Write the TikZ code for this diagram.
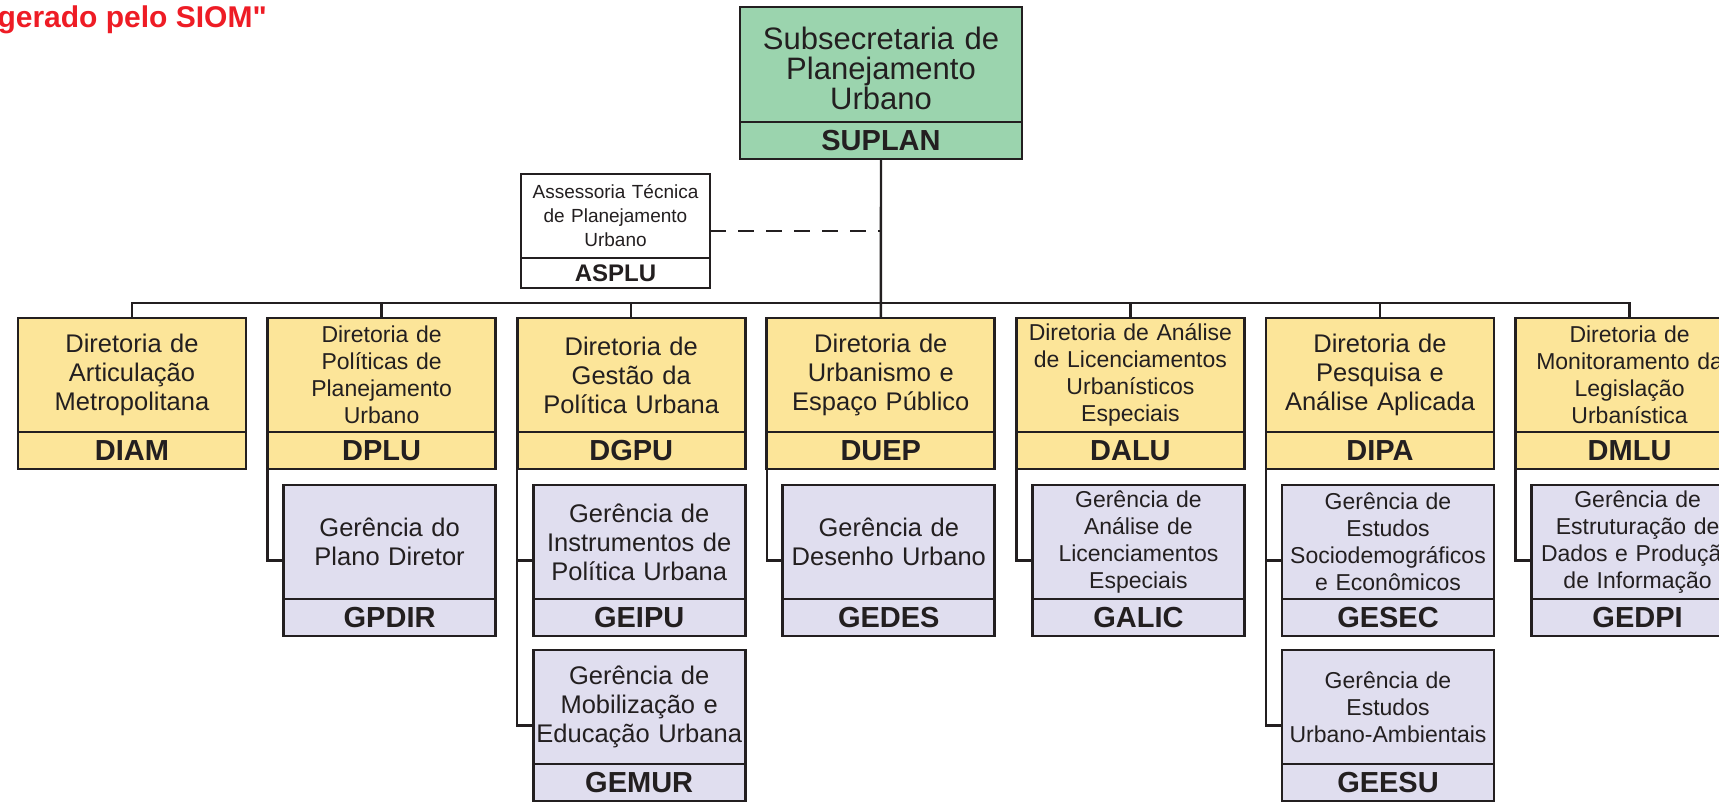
\documentclass[tikz,border=0pt]{standalone}
\usepackage{fontspec}
\setmainfont{Liberation Sans}
\newfontfamily\siomfont{Liberation Sans}
\usepackage{tikz}
\usetikzlibrary{positioning, calc}

\definecolor{ink}{HTML}{231F20}
\definecolor{suplangreen}{HTML}{9BD4AE}
\definecolor{diryellow}{HTML}{FCE599}
\definecolor{gerlilac}{HTML}{E0DEEF}
\definecolor{siomred}{HTML}{EE1C25}

\newcommand{\txtbig}{\fontsize{25.5}{29}\selectfont}
\newcommand{\txtsmall}{\fontsize{23}{27}\selectfont}
\newcommand{\txtsig}{\fontsize{29}{31}\selectfont\bfseries}

\tikzstyle{unit} = [rectangle, draw=ink, line width=2.8pt, text=ink, align=center, inner sep=0pt, outer sep=0pt]
\tikzstyle{secretaria} = [unit, fill=suplangreen, minimum width=282pt, text width=276pt, minimum height=115pt, font=\fontsize{31}{30}\selectfont]
\tikzstyle{assessoria} = [unit, fill=white, minimum width=189pt, text width=183pt, minimum height=84pt, font=\fontsize{19}{24}\selectfont]
\tikzstyle{diretoria} = [unit, fill=diryellow, minimum width=228pt, text width=222pt, minimum height=114pt, font=\txtbig]
\tikzstyle{gerencia} = [unit, fill=gerlilac, minimum width=212pt, text width=208pt, minimum height=114pt, font=\txtbig]
\tikzstyle{sigla} = [minimum height=37pt, font=\txtsig]
\tikzstyle{link} = [draw=ink, line width=2.4pt]
\tikzstyle{dashlink} = [link, dash pattern=on 16pt off 12pt]

\begin{document}
\begin{tikzpicture}[x=1pt, y=-1pt]
        \useasboundingbox (0,0) rectangle (1719,801);

        \node (siom) [anchor=base east, inner sep=0pt, text=siomred, font=\siomfont\fontsize{30}{32}\selectfont\bfseries] at (267,27) {gerado pelo SIOM"};

        % subsecretaria e assessoria
        \node (suplan) [secretaria, anchor=north] at (881,7) {\rule{0pt}{31pt}Subsecretaria de\\Planejamento\\Urbano};
        \node (suplan_sig) [secretaria, sigla, below=0pt of suplan] {SUPLAN};
        \node (asplu) [assessoria, anchor=north] at (615.5,174) {Assessoria Técnica\\de Planejamento\\Urbano};
        \node (asplu_sig) [assessoria, sigla, minimum height=30pt, font=\fontsize{24}{26}\selectfont\bfseries, below=0pt of asplu] {ASPLU};

        % diretorias
        \node (diam) [diretoria, anchor=north west] at (18,318) {Diretoria de\\Articulação\\Metropolitana};
        \node (diam_sig) [diretoria, sigla, below=0pt of diam] {DIAM};
        \node (dplu) [diretoria, font=\txtsmall, right=21.6pt of diam] {Diretoria de\\Políticas de\\Planejamento\\Urbano};
        \node (dplu_sig) [diretoria, sigla, below=0pt of dplu] {DPLU};
        \node (dgpu) [diretoria, right=21.6pt of dplu] {Diretoria de\\Gestão da\\Política Urbana};
        \node (dgpu_sig) [diretoria, sigla, below=0pt of dgpu] {DGPU};
        \node (duep) [diretoria, right=21.6pt of dgpu] {Diretoria de\\Urbanismo e\\Espaço Público};
        \node (duep_sig) [diretoria, sigla, below=0pt of duep] {DUEP};
        \node (dalu) [diretoria, font=\txtsmall, right=21.6pt of duep] {Diretoria de Análise\\de Licenciamentos\\Urbanísticos\\Especiais};
        \node (dalu_sig) [diretoria, sigla, below=0pt of dalu] {DALU};
        \node (dipa) [diretoria, right=21.6pt of dalu] {Diretoria de\\Pesquisa e\\Análise Aplicada};
        \node (dipa_sig) [diretoria, sigla, below=0pt of dipa] {DIPA};
        \node (dmlu) [diretoria, font=\txtsmall, right=21.6pt of dipa] {Diretoria de\\Monitoramento da\\Legislação\\Urbanística};
        \node (dmlu_sig) [diretoria, sigla, below=0pt of dmlu] {DMLU};

        % gerencias
        \node (gpdir) [gerencia, below=16pt of dplu_sig.south east, anchor=north east] {Gerência do\\Plano Diretor};
        \node (gpdir_sig) [gerencia, sigla, below=0pt of gpdir] {GPDIR};
        \node (geipu) [gerencia, below=16pt of dgpu_sig.south east, anchor=north east] {Gerência de\\Instrumentos de\\Política Urbana};
        \node (geipu_sig) [gerencia, sigla, below=0pt of geipu] {GEIPU};
        \node (gemur) [gerencia, below=14pt of geipu_sig] {Gerência de\\Mobilização e\\Educação Urbana};
        \node (gemur_sig) [gerencia, sigla, below=0pt of gemur] {GEMUR};
        \node (gedes) [gerencia, below=16pt of duep_sig.south east, anchor=north east] {Gerência de\\Desenho Urbano};
        \node (gedes_sig) [gerencia, sigla, below=0pt of gedes] {GEDES};
        \node (galic) [gerencia, font=\txtsmall, below=16pt of dalu_sig.south east, anchor=north east] {Gerência de\\Análise de\\Licenciamentos\\Especiais};
        \node (galic_sig) [gerencia, sigla, below=0pt of galic] {GALIC};
        \node (gesec) [gerencia, font=\txtsmall, below=16pt of dipa_sig.south east, anchor=north east] {Gerência de\\Estudos\\Sociodemográficos\\e Econômicos};
        \node (gesec_sig) [gerencia, sigla, below=0pt of gesec] {GESEC};
        \node (geesu) [gerencia, font=\txtsmall, below=14pt of gesec_sig] {Gerência de\\Estudos\\Urbano-Ambientais};
        \node (geesu_sig) [gerencia, sigla, below=0pt of geesu] {GEESU};
        \node (gedpi) [gerencia, font=\txtsmall, below=16pt of dmlu_sig.south east, anchor=north east] {Gerência de\\Estruturação de\\Dados e Produção\\de Informação};
        \node (gedpi_sig) [gerencia, sigla, below=0pt of gedpi] {GEDPI};

        % ligacoes
        \coordinate (bus) at (881,303);
        \draw [link] (suplan_sig.south) -- (duep.north);
        \draw [link] (diam.north) |- (bus) -| (dmlu.north);
        \draw [link] (dplu.north) -- (dplu.north |- bus);
        \draw [link] (dgpu.north) -- (dgpu.north |- bus);
        \draw [link] (dalu.north) -- (dalu.north |- bus);
        \draw [link] (dipa.north) -- (dipa.north |- bus);
        \coordinate (asplu_mid) at ($(asplu.north east)!.5!(asplu_sig.south east)$);
        \draw [dashlink] (asplu_mid) -- (asplu_mid -| suplan_sig.south);

        \draw [link] (dplu_sig.south west) |- ($(gpdir.north west)!.5!(gpdir_sig.south west)$);
        \draw [link] (dgpu_sig.south west) |- ($(geipu.north west)!.5!(geipu_sig.south west)$);
        \draw [link] (dgpu_sig.south west) |- ($(gemur.north west)!.5!(gemur_sig.south west)$);
        \draw [link] (duep_sig.south west) |- ($(gedes.north west)!.5!(gedes_sig.south west)$);
        \draw [link] (dalu_sig.south west) |- ($(galic.north west)!.5!(galic_sig.south west)$);
        \draw [link] (dipa_sig.south west) |- ($(gesec.north west)!.5!(gesec_sig.south west)$);
        \draw [link] (dipa_sig.south west) |- ($(geesu.north west)!.5!(geesu_sig.south west)$);
        \draw [link] (dmlu_sig.south west) |- ($(gedpi.north west)!.5!(gedpi_sig.south west)$);
\end{tikzpicture}
\end{document}
